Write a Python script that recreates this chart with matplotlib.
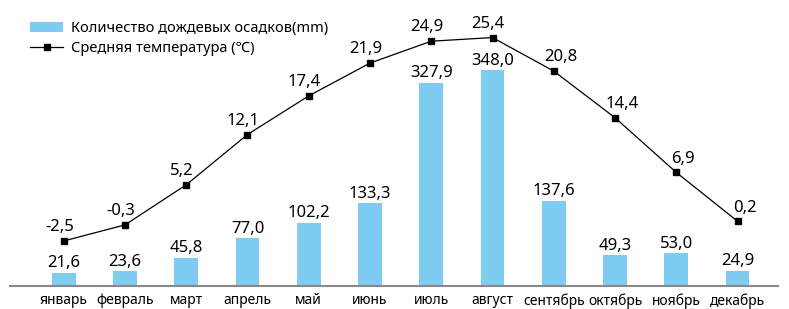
import numpy as np
import matplotlib.pyplot as plt

plt.rcParams['font.family'] = ['Noto Sans', 'DejaVu Sans']

# данные
months = ['январь', 'февраль', 'март', 'апрель', 'май', 'июнь',
          'июль', 'август', 'сентябрь', 'октябрь', 'ноябрь', 'декабрь']
rain = [21.6, 23.6, 45.8, 77.0, 102.2, 133.3, 327.9, 348.0, 137.6, 49.3, 53.0, 24.9]
temp = [-2.5, -0.3, 5.2, 12.1, 17.4, 21.9, 24.9, 25.4, 20.8, 14.4, 6.9, 0.2]


def fmt(v):
    return '{:.1f}'.format(v).replace('.', ',')


fig = plt.figure(figsize=(7.89, 3.09), dpi=100)
ax = fig.add_axes([0, 23 / 309, 1, 276 / 309])
x = np.arange(len(months))

ax.bar(x, rain, width=0.39, color='#7fccf3', label='Количество дождевых осадков(mm)', zorder=2)
for xi, v in zip(x, rain):
    ax.annotate(fmt(v), (xi, v), xytext=(0, 4), textcoords='offset points',
                ha='center', va='baseline', fontsize=12, fontweight='medium')

ax.set_xlim(-1.04, 11.84)
ax.set_ylim(0, 445)
ax.set_xticks(x)
ax.set_xticklabels(months, fontsize=10)
ax.tick_params(axis='x', length=0, pad=5)
ax.set_yticks([])
for s in ['top', 'right', 'left']:
    ax.spines[s].set_visible(False)
ax.spines['bottom'].set_color('#888888')
ax.spines['bottom'].set_linewidth(1.5)
ax.spines['bottom'].set_bounds(-0.88, 11.66)

ax2 = ax.twinx()
ax2.plot(x, temp, color='black', lw=0.9, marker='s', markersize=4.8,
         label='Средняя температура (℃)', zorder=3)
# подписи температуры сдвинуты от линии: на подъёме влево, на спаде вправо
peak = int(np.argmax(temp))
for i, t in enumerate(temp):
    dx = -3 if i <= peak else 5
    ax2.annotate(fmt(t), (i, t), xytext=(dx, 7), textcoords='offset points',
                 ha='center', va='baseline', fontsize=12, fontweight='medium')
ax2.set_ylim(-8.68, 29.18)
ax2.axis('off')

h1, l1 = ax.get_legend_handles_labels()
h2, l2 = ax2.get_legend_handles_labels()
fig.legend(h1 + h2, l1 + l2, loc='upper left', bbox_to_anchor=(0.022, 0.975),
           frameon=False, fontsize=10.5, handlelength=2.2, handletextpad=0.6,
           labelspacing=0.35)

plt.savefig('out.png', dpi=100)
